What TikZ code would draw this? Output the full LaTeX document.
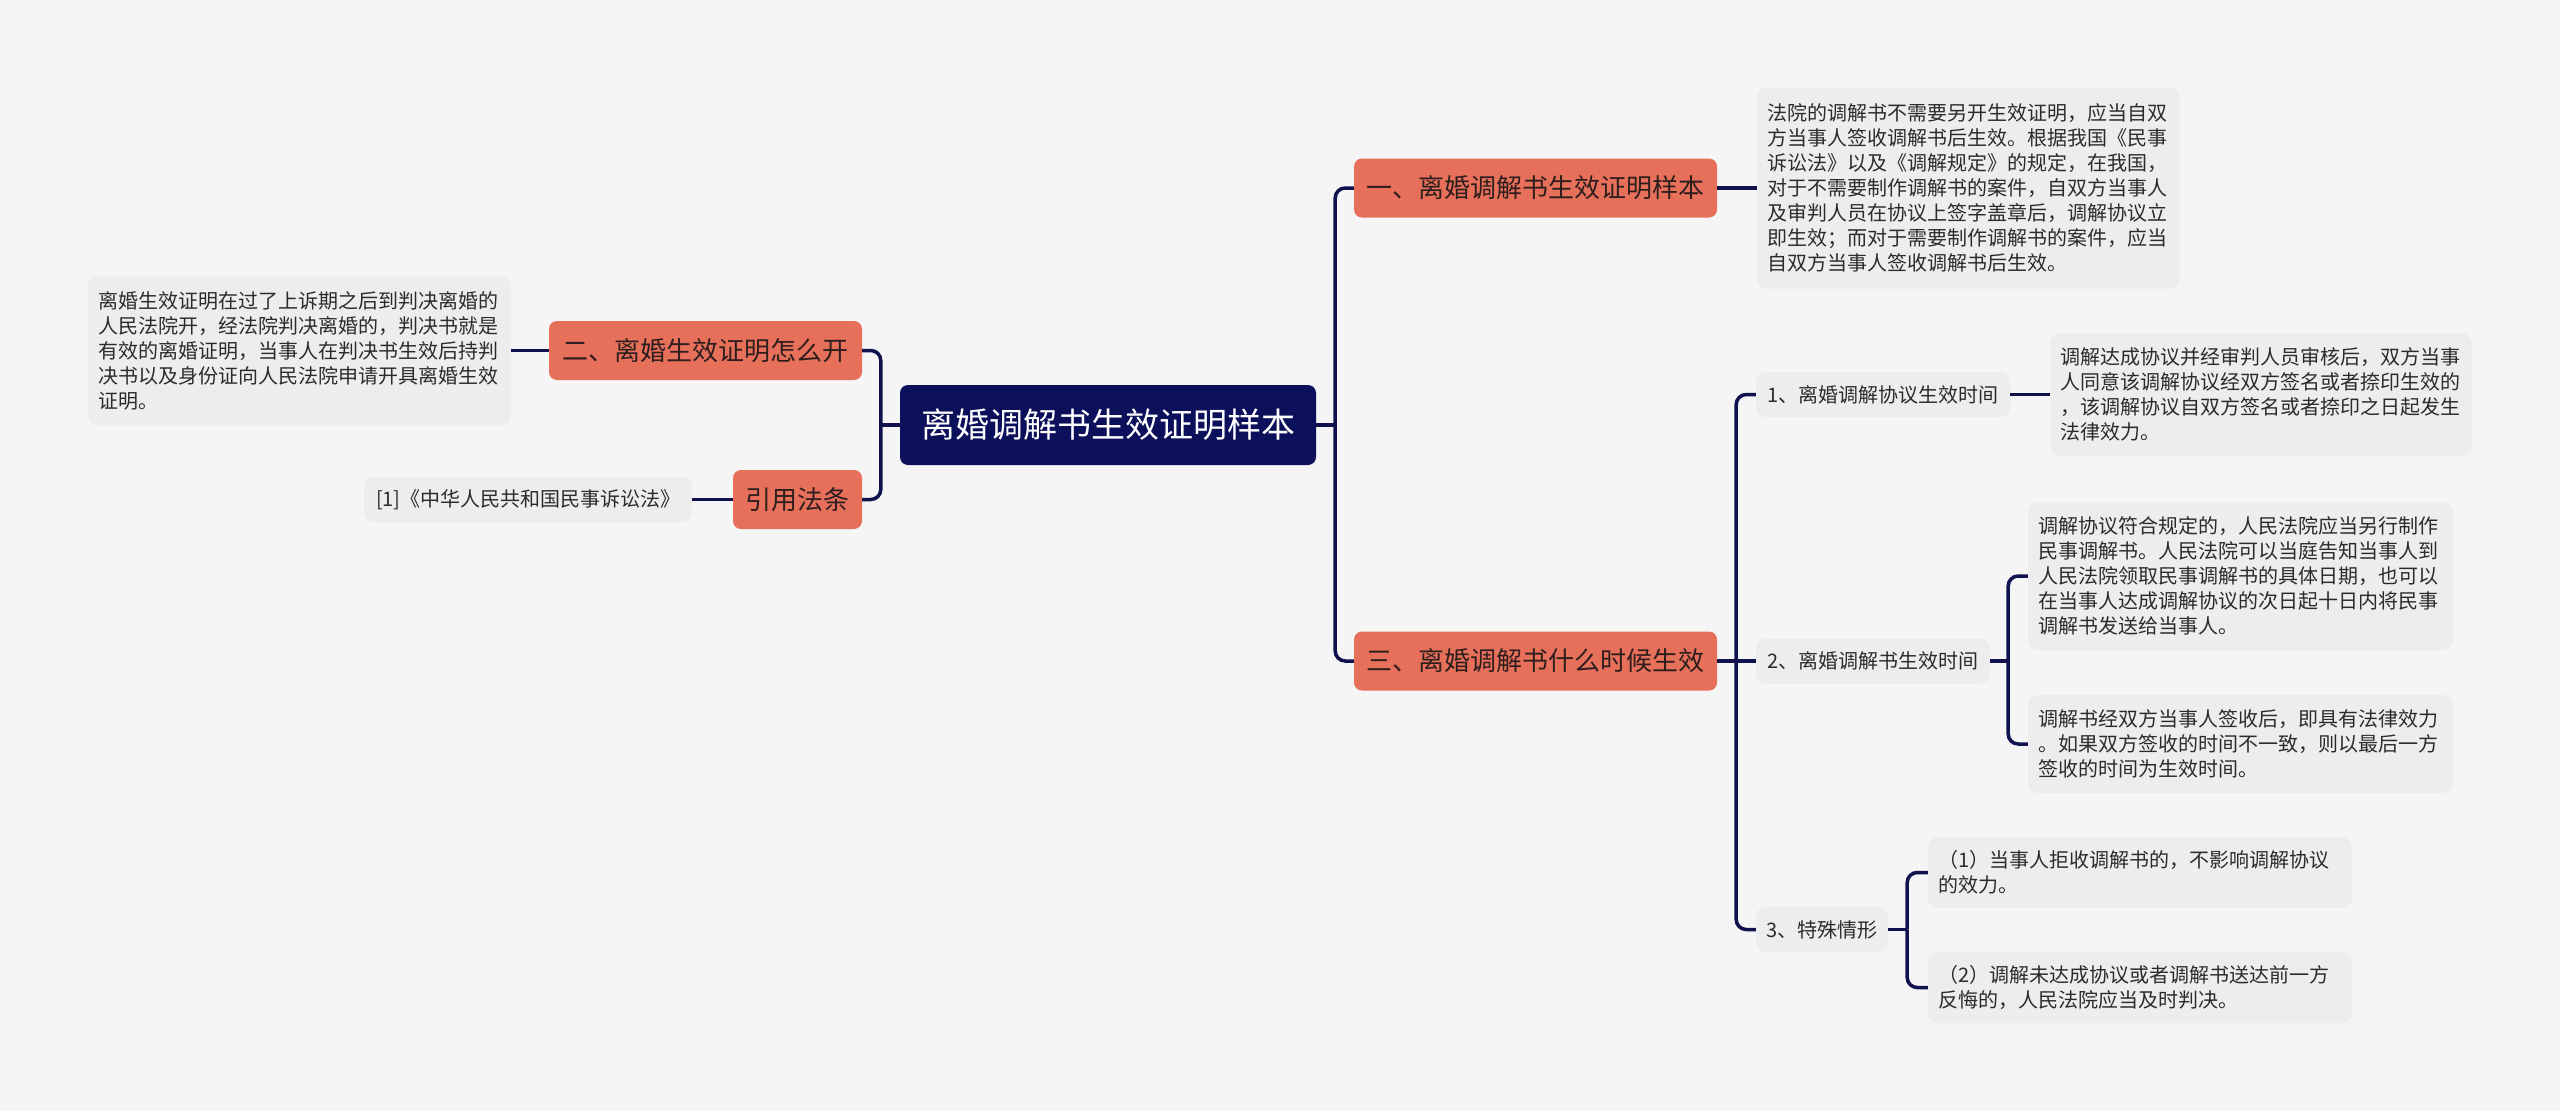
\documentclass[tikz,border=0pt]{standalone}
\usepackage{fontspec}
\setmainfont{Noto Sans CJK SC}
\usetikzlibrary{calc}
\definecolor{bgc}{HTML}{F5F5F5}
\definecolor{navy}{HTML}{0C0F5A}
\definecolor{linec}{HTML}{10124E}
\definecolor{orangec}{HTML}{E7705B}
\definecolor{boxg}{HTML}{EDEDED}
\definecolor{txt}{HTML}{2B2B2B}
\definecolor{ttxt}{HTML}{2E1E1E}
\begin{document}
\begin{tikzpicture}[x=1pt,y=-1pt,
  conn/.style={draw=linec, line width=3.5pt},
  cconn/.style={conn, rounded corners=10},
  rootbox/.style={fill=navy, rounded corners=8, text=white, font=\fontsize{34}{40}\selectfont, inner sep=0pt, minimum height=80pt, minimum width=416pt},
  topic/.style={fill=orangec, rounded corners=8, text=ttxt, font=\fontsize{26}{30}\selectfont, inner sep=0pt, minimum height=59pt},
  subt/.style={fill=boxg, rounded corners=10, text=txt, font=\fontsize{20}{25}\selectfont, inner sep=0pt, minimum height=45pt},
  note/.style={fill=boxg, rounded corners=10, text=txt, font=\fontsize{20}{25}\selectfont, inner xsep=10pt, inner ysep=0pt, align=left}
]
\useasboundingbox (0,0) rectangle (2560,1111);
\fill[bgc] (0,0) rectangle (2560,1111);

% root
\node[rootbox] (root) at (1108,425) {离婚调解书生效证明样本};

% left side
\node[topic, minimum width=313pt] (n2) at (705.5,350.5) {二、离婚生效证明怎么开};
\node[topic, minimum width=129pt] (ref) at (797.5,499.5) {引用法条};
\node[note, text width=403pt, minimum height=150pt] (lbox) at (299.5,350.5) {离婚生效证明在过了上诉期之后到判决离婚的\\人民法院开，经法院判决离婚的，判决书就是\\有效的离婚证明，当事人在判决书生效后持判\\决书以及身份证向人民法院申请开具离婚生效\\证明。};
\node[note, text width=304pt, minimum height=45pt, inner xsep=12pt] (refbox) at (528,499.5) {[1]《中华人民共和国民事诉讼法》};

% right side
\node[topic, minimum width=363pt] (n1) at (1535.5,188) {一、离婚调解书生效证明样本};
\node[topic, minimum width=363pt] (n3) at (1535.5,661) {三、离婚调解书什么时候生效};
\node[note, text width=403pt, minimum height=201pt] (tbox1) at (1968.5,188) {法院的调解书不需要另开生效证明，应当自双\\方当事人签收调解书后生效。根据我国《民事\\诉讼法》以及《调解规定》的规定，在我国，\\对于不需要制作调解书的案件，自双方当事人\\及审判人员在协议上签字盖章后，调解协议立\\即生效；而对于需要制作调解书的案件，应当\\自双方当事人签收调解书后生效。};

\node[subt, minimum width=254pt] (s1) at (1883,394.5) {1、离婚调解协议生效时间};
\node[subt, minimum width=234pt] (s2) at (1873,661) {2、离婚调解书生效时间};
\node[subt, minimum width=132pt] (s3) at (1822,929.5) {3、特殊情形};

\node[note, text width=402pt, minimum height=122pt] (t1) at (2261,394.5) {调解达成协议并经审判人员审核后，双方当事\\人同意该调解协议经双方签名或者捺印生效的\\，该调解协议自双方签名或者捺印之日起发生\\法律效力。};
\node[note, text width=405pt, minimum height=148pt] (t2a) at (2240.5,576) {调解协议符合规定的，人民法院应当另行制作\\民事调解书。人民法院可以当庭告知当事人到\\人民法院领取民事调解书的具体日期，也可以\\在当事人达成调解协议的次日起十日内将民事\\调解书发送给当事人。};
\node[note, text width=405pt, minimum height=98pt] (t2b) at (2240.5,744) {调解书经双方当事人签收后，即具有法律效力\\。如果双方签收的时间不一致，则以最后一方\\签收的时间为生效时间。};
\node[note, text width=404pt, minimum height=71pt] (t3a) at (2140,872.5) {（1）当事人拒收调解书的，不影响调解协议\\的效力。};
\node[note, text width=404pt, minimum height=71pt] (t3b) at (2140,987.5) {（2）调解未达成协议或者调解书送达前一方\\反悔的，人民法院应当及时判决。};

% connectors: root -> right
\coordinate (rj) at ($(root.east)+(19,0)$);
\draw[conn] (root.east) -- (rj);
\draw[cconn] (rj) |- (n1.west);
\draw[cconn] (rj) |- (n3.west);
\draw[conn] (n1.east) -- (tbox1.west);

% n3 -> s1..s3
\coordinate (j3) at ($(n3.east)+(19,0)$);
\draw[conn] (n3.east) -- (j3);
\draw[cconn] (j3) |- (s1.west);
\draw[conn] (j3) -- (s2.west);
\draw[cconn] (j3) |- (s3.west);

\draw[conn] (s1.east) -- (t1.west);

\coordinate (js2) at ($(s2.east)+(18,0)$);
\draw[conn] (s2.east) -- (js2);
\draw[cconn] (js2) |- (t2a.west);
\draw[cconn] (js2) |- (t2b.west);

\coordinate (js3) at ($(s3.east)+(19,0)$);
\draw[conn] (s3.east) -- (js3);
\draw[cconn] (js3) |- (t3a.west);
\draw[cconn] (js3) |- (t3b.west);

% root -> left
\coordinate (lj) at ($(root.west)+(-19,0)$);
\draw[conn] (root.west) -- (lj);
\draw[cconn] (lj) |- (n2.east);
\draw[cconn] (lj) |- (ref.east);
\draw[conn] (n2.west) -- (lbox.east);
\draw[conn] (ref.west) -- (refbox.east);
\end{tikzpicture}
\end{document}
